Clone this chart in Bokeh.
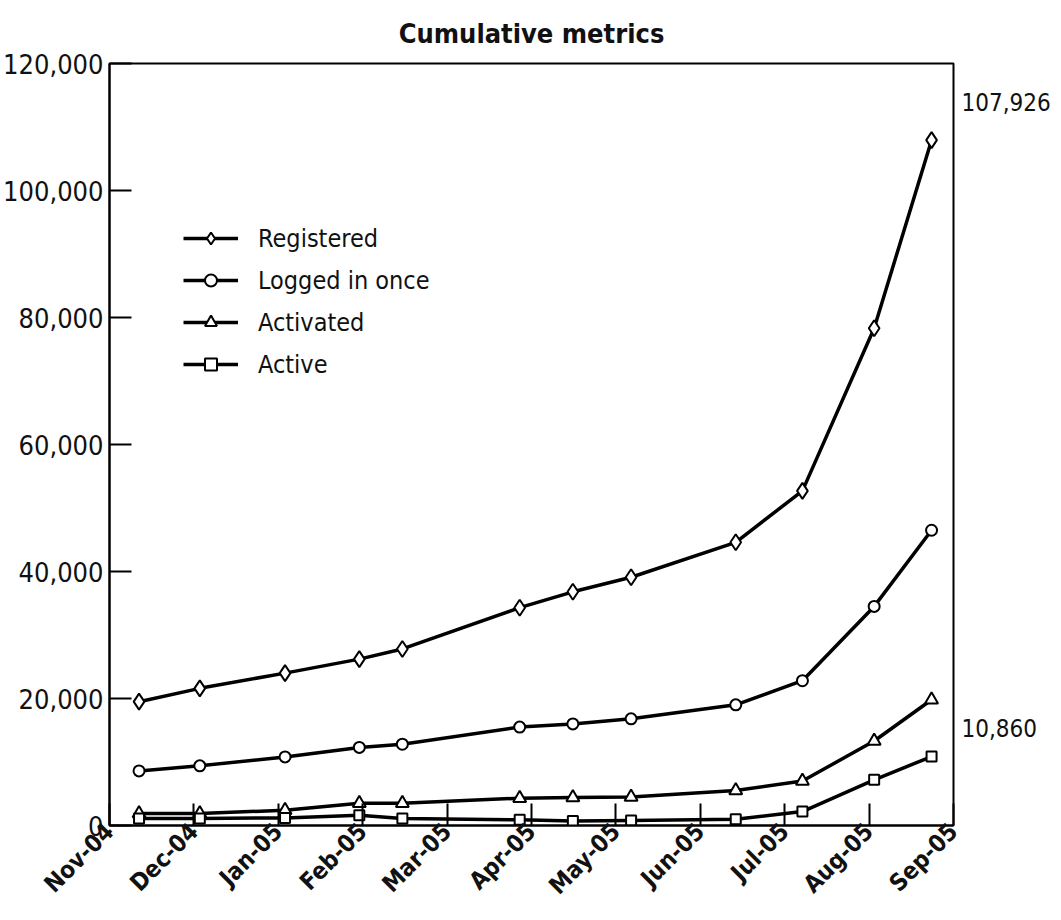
from bokeh.plotting import figure
from bokeh.models import (FixedTicker, NumeralTickFormatter, Legend, LegendItem,
                          Range1d, LinearAxis)
from bokeh.embed import file_html
from bokeh.resources import INLINE
import math

# ---- data ----
month_labels = ["Nov-04", "Dec-04", "Jan-05", "Feb-05", "Mar-05", "Apr-05",
                "May-05", "Jun-05", "Jul-05", "Aug-05", "Sep-05"]
# observation positions, in months after Nov-04
obs_month = [0.35, 1.07, 2.08, 2.96, 3.47, 4.86, 5.49, 6.18, 7.42, 8.21, 9.06, 9.74]
registered = [19500, 21600, 24000, 26200, 27800, 34300, 36800, 39100, 44600, 52700, 78300, 107926]
logged_in_once = [8600, 9400, 10800, 12300, 12800, 15500, 16000, 16800, 19000, 22800, 34500, 46500]
activated = [1900, 1900, 2400, 3500, 3500, 4300, 4400, 4500, 5500, 7000, 13300, 19800]
active = [1100, 1100, 1200, 1600, 1100, 900, 700, 800, 1000, 2200, 7200, 10860]
y_ticks = [0, 20000, 40000, 60000, 80000, 100000, 120000]
end_labels = ["107,926", "10,860"]
end_label_levels = [114000, 15400]

FONT = "'Liberation Sans Narrow', 'DejaVu Sans Condensed', 'Roboto Condensed', 'Liberation Sans', sans-serif"

p = figure(width=1053, height=912, output_backend="svg", toolbar_location=None,
           x_range=Range1d(0, len(month_labels) - 1), y_range=Range1d(0, 120000),
           min_border_left=104, min_border_right=92, min_border_top=62, min_border_bottom=80,
           title="Cumulative metrics")
p.background_fill_color = "white"
p.border_fill_color = "white"
p.outline_line_color = "black"
p.outline_line_width = 2
p.grid.visible = False

p.title.align = "center"
p.title.text_font = FONT
p.title.text_font_size = "27px"
p.title.text_font_style = "bold"
p.title.text_color = "#111111"
p.title.standoff = 30

# axes
p.xaxis.ticker = FixedTicker(ticks=list(range(len(month_labels))))
p.xaxis.major_label_overrides = {i: s for i, s in enumerate(month_labels)}
p.xaxis.major_label_orientation = math.pi / 4
p.xaxis.major_label_text_font = FONT
p.xaxis.major_label_text_font_style = "bold"
p.xaxis.major_label_text_font_size = "24px"
p.yaxis.ticker = FixedTicker(ticks=y_ticks)
p.yaxis.formatter = NumeralTickFormatter(format="0,0")
p.yaxis.major_label_text_font = FONT
p.yaxis.major_label_text_font_size = "27px"
for ax in (p.xaxis, p.yaxis):
    ax.axis_line_width = 2
    ax.axis_line_color = "black"
    ax.major_tick_in = 22
    ax.major_tick_out = 0
    ax.minor_tick_out = 0
    ax.major_tick_line_width = 2
    ax.minor_tick_line_color = None
    ax.major_label_text_color = "#111111"
    ax.axis_label_standoff = 0
p.yaxis.major_label_standoff = 6
p.xaxis.major_label_standoff = 2

# right-side end value labels, as an unlined axis
right = LinearAxis(ticker=FixedTicker(ticks=end_label_levels),
                   major_label_overrides={v: s for v, s in zip(end_label_levels, end_labels)},
                   axis_line_color=None, major_tick_line_color=None, minor_tick_line_color=None,
                   major_tick_in=0, major_tick_out=0, minor_tick_in=0, minor_tick_out=0,
                   axis_label_standoff=0,
                   major_label_standoff=8, major_label_text_font=FONT,
                   major_label_text_font_size="24px", major_label_text_color="#111111")
p.add_layout(right, "right")

series = [
    ("Registered", registered, "diamond", 16),
    ("Logged in once", logged_in_once, "circle", 11),
    ("Activated", activated, "triangle", 13),
    ("Active", active, "square", 10),
]
items = []
for name, vals, marker, size in series:
    r1 = p.line(obs_month, vals, line_color="black", line_width=3.5)
    r2 = p.scatter(obs_month, vals, marker=marker, size=size,
                   fill_color="white", line_color="black", line_width=2)
    items.append(LegendItem(label=name, renderers=[r1, r2]))

legend = Legend(items=items, location=(74, 446), glyph_width=55, glyph_height=30,
                label_height=30, spacing=12, padding=0, margin=0, label_standoff=20,
                label_text_font=FONT, label_text_font_size="25px", label_text_color="#111111",
                border_line_color=None, background_fill_alpha=0)
p.add_layout(legend, "center")

open("out.html", "w").write(file_html(p, INLINE))
